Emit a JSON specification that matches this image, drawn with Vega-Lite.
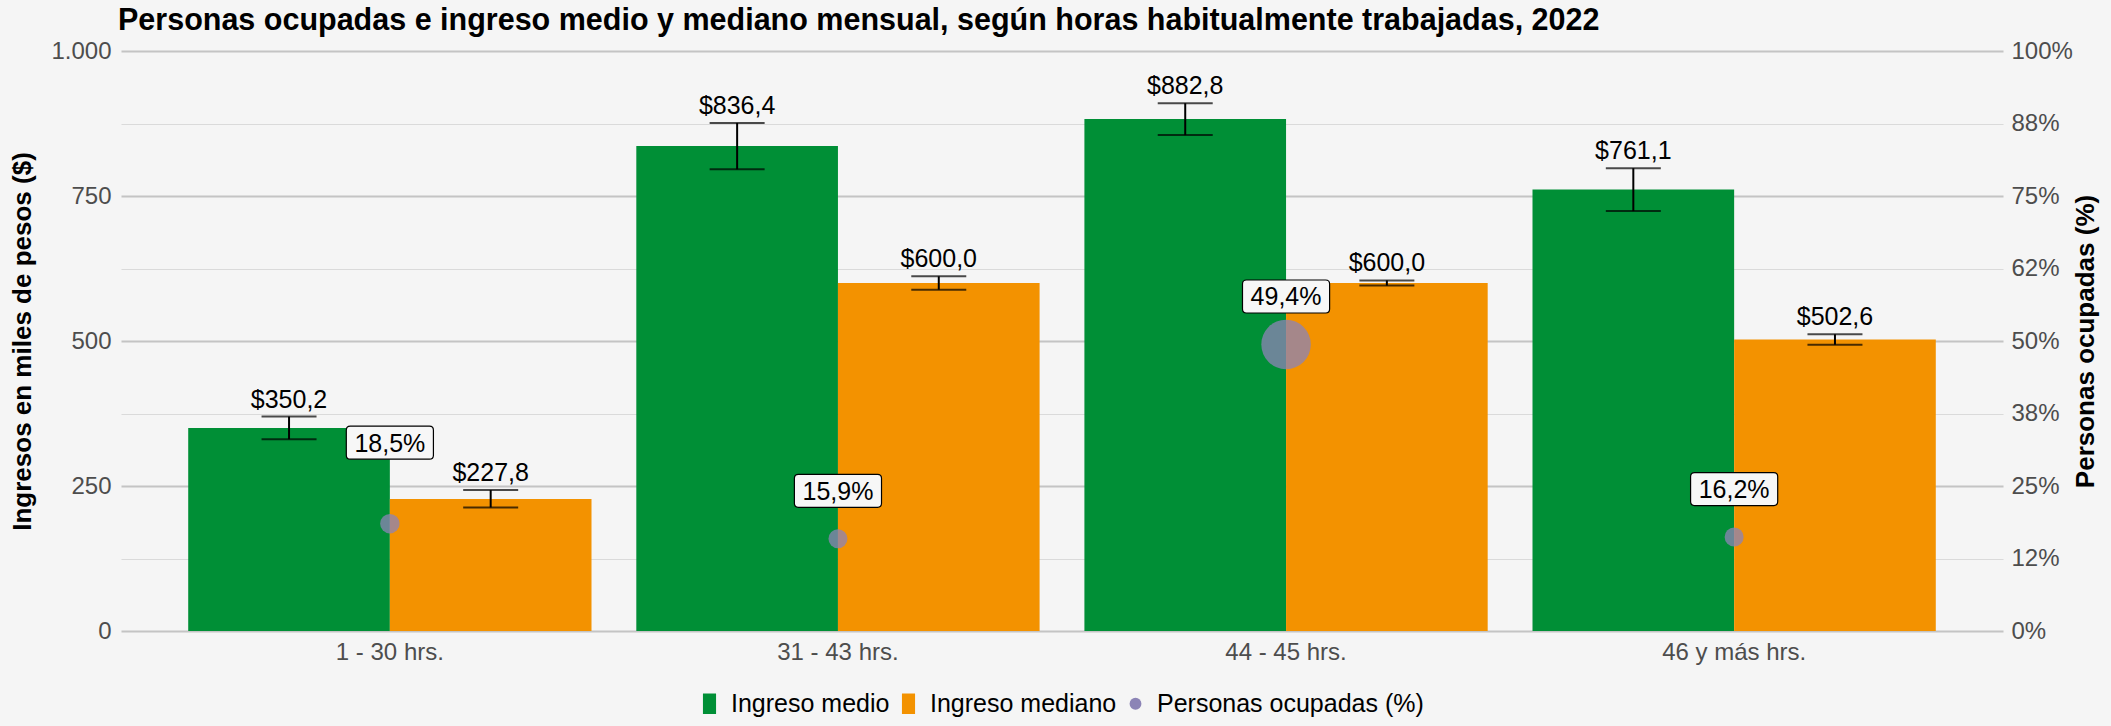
{
  "$schema": "https://vega.github.io/schema/vega-lite/v6.json",
  "autosize": {"type": "none"},
  "width": 1882,
  "height": 580,
  "padding": {"left": 121, "top": 51, "right": 108, "bottom": 95},
  "background": "#f5f5f5",
  "title": {
    "text": "Personas ocupadas e ingreso medio y mediano mensual, según horas habitualmente trabajadas, 2022",
    "anchor": "start",
    "frame": "group",
    "fontSize": 30.5,
    "fontWeight": "bold",
    "color": "#000000",
    "baseline": "alphabetic",
    "offset": 17,
    "dx": -3,
    "dy": 38
  },
  "config": {
    "font": "Liberation Sans",
    "view": {"stroke": null},
    "locale": {
      "number": {"decimal": ",", "thousands": ".", "grouping": [3], "currency": ["$", ""]}
    },
    "axis": {"domain": false, "ticks": false, "labelColor": "#4d4d4d", "labelFontSize": 24, "titleFontSize": 26, "titleFontWeight": "bold", "titleColor": "#000000"},
    "legend": {"labelFontSize": 25, "labelColor": "#000000", "labelLimit": 0}
  },
  "datasets": {
    "ingresos": [
      {"categoria": "1 - 30 hrs.", "tipo": "Ingreso medio", "valor": 350.2, "lo": 330.7, "hi": 369.7},
      {"categoria": "1 - 30 hrs.", "tipo": "Ingreso mediano", "valor": 227.8, "lo": 213.0, "hi": 243.0},
      {"categoria": "31 - 43 hrs.", "tipo": "Ingreso medio", "valor": 836.4, "lo": 796.0, "hi": 876.0},
      {"categoria": "31 - 43 hrs.", "tipo": "Ingreso mediano", "valor": 600.0, "lo": 588.5, "hi": 611.5},
      {"categoria": "44 - 45 hrs.", "tipo": "Ingreso medio", "valor": 882.8, "lo": 855.0, "hi": 910.0},
      {"categoria": "44 - 45 hrs.", "tipo": "Ingreso mediano", "valor": 600.0, "lo": 595.5, "hi": 604.5},
      {"categoria": "46 y más hrs.", "tipo": "Ingreso medio", "valor": 761.1, "lo": 724.0, "hi": 798.0},
      {"categoria": "46 y más hrs.", "tipo": "Ingreso mediano", "valor": 502.6, "lo": 493.6, "hi": 511.6}
    ],
    "personas": [
      {"categoria": "1 - 30 hrs.", "serie": "Personas ocupadas (%)", "pct": 0.185},
      {"categoria": "31 - 43 hrs.", "serie": "Personas ocupadas (%)", "pct": 0.159},
      {"categoria": "44 - 45 hrs.", "serie": "Personas ocupadas (%)", "pct": 0.494},
      {"categoria": "46 y más hrs.", "serie": "Personas ocupadas (%)", "pct": 0.162}
    ]
  },
  "encoding": {
    "x": {
      "field": "categoria",
      "type": "nominal",
      "sort": ["1 - 30 hrs.", "31 - 43 hrs.", "44 - 45 hrs.", "46 y más hrs."],
      "scale": {"paddingInner": 0.1, "paddingOuter": 0.15},
      "axis": {"title": null, "labelAngle": 0, "labelPadding": 9, "grid": false}
    }
  },
  "layer": [
    {
      "data": {"name": "ingresos"},
      "encoding": {
        "xOffset": {"field": "tipo", "type": "nominal", "sort": ["Ingreso medio", "Ingreso mediano"], "scale": {"paddingInner": 0, "paddingOuter": 0}}
      },
      "layer": [
        {
          "mark": {"type": "bar"},
          "encoding": {
            "y": {
              "field": "valor",
              "type": "quantitative",
              "scale": {"domain": [0, 1000], "nice": false},
              "axis": {
                "orient": "left",
                "title": "Ingresos en miles de pesos ($)",
                "titlePadding": 15,
                "labelPadding": 10,
                "values": [0, 125, 250, 375, 500, 625, 750, 875, 1000],
                "labelExpr": "datum.value % 250 == 0 ? (datum.value == 1000 ? '1.000' : datum.label) : ''",
                "grid": true,
                "gridColor": {"condition": {"test": "datum.value % 250 == 0", "value": "#c4c4c4"}, "value": "#dadada"},
                "gridWidth": {"condition": {"test": "datum.value % 250 == 0", "value": 1.8}, "value": 1.1}
              }
            },
            "color": {
              "field": "tipo",
              "type": "nominal",
              "scale": {
                "domain": ["Ingreso medio", "Ingreso mediano", "Personas ocupadas (%)"],
                "range": ["#008F36", "#F39200", "#8c84b6"]
              },
              "legend": {
                "title": null,
                "orient": "none",
                "legendX": 576,
                "legendY": 640,
                "direction": "horizontal",
                "columnPadding": 6,
                "labelOffset": 9,
                "symbolOpacity": 1,
                "encode": {
                  "symbols": {
                    "update": {
                      "shape": {"signal": "datum.value == 'Personas ocupadas (%)' ? 'circle' : 'M-0.64,-1H0.64V1H-0.64Z'"},
                      "size": {"signal": "datum.value == 'Personas ocupadas (%)' ? 140 : 420"},
                      "fill": {"signal": "datum.value == 'Personas ocupadas (%)' ? '#cac7e0' : (datum.value == 'Ingreso medio' ? '#008F36' : '#F39200')"},
                      "fillOpacity": {"value": 1},
                      "opacity": {"value": 1},
                      "strokeWidth": {"value": 0}
                    }
                  }
                }
              }
            }
          }
        },
        {
          "mark": {"type": "rule", "color": "#000000", "strokeWidth": 2},
          "encoding": {"y": {"field": "lo", "type": "quantitative"}, "y2": {"field": "hi"}}
        },
        {
          "mark": {"type": "tick", "color": "#000000", "thickness": 2, "size": 55},
          "encoding": {"y": {"field": "lo", "type": "quantitative"}}
        },
        {
          "mark": {"type": "tick", "color": "#000000", "thickness": 2, "size": 55},
          "encoding": {"y": {"field": "hi", "type": "quantitative"}}
        },
        {
          "mark": {"type": "text", "fontSize": 25, "color": "#000000", "baseline": "alphabetic", "dy": -9},
          "encoding": {
            "y": {"field": "hi", "type": "quantitative"},
            "text": {"field": "valor", "type": "quantitative", "format": "$.1f"}
          }
        }
      ]
    },
    {
      "data": {"name": "personas"},
      "encoding": {
        "y": {
          "field": "pct",
          "type": "quantitative",
          "scale": {"domain": [0, 1], "nice": false},
          "axis": {
            "orient": "right",
            "title": "Personas ocupadas (%)",
            "titleAngle": 270,
            "titlePadding": 26,
            "labelPadding": 8,
            "grid": false,
            "values": [0, 0.125, 0.25, 0.375, 0.5, 0.625, 0.75, 0.875, 1],
            "format": ".0%",
            "labelExpr": "datum.value == 0.125 ? '12%' : (datum.value == 0.625 ? '62%' : datum.label)"
          }
        }
      },
      "layer": [
        {
          "mark": {"type": "circle", "opacity": 0.76},
          "encoding": {
            "size": {
              "field": "pct",
              "type": "quantitative",
              "scale": {"domain": [0.159, 0.185, 0.494], "range": [360, 380, 2450]},
              "legend": null
            },
            "color": {"field": "serie", "type": "nominal"}
          }
        },
        {
          "transform": [{"filter": "datum.pct != 0.185"}],
          "layer": [
            {
              "mark": {"type": "point", "filled": true, "fill": "#f7f7f7", "fillOpacity": 1, "stroke": "#000000", "strokeWidth": 1.2, "size": 7744, "yOffset": -48,
                "shape": "M-0.9,-0.375L0.9,-0.375Q0.99,-0.375 0.99,-0.285L0.99,0.285Q0.99,0.375 0.9,0.375L-0.9,0.375Q-0.99,0.375 -0.99,0.285L-0.99,-0.285Q-0.99,-0.375 -0.9,-0.375Z"}
            },
            {
              "mark": {"type": "text", "fontSize": 25, "color": "#000000", "baseline": "middle", "dy": -47},
              "encoding": {"text": {"field": "pct", "type": "quantitative", "format": ".1%"}}
            }
          ]
        },
        {
          "transform": [{"filter": "datum.pct == 0.185"}],
          "layer": [
            {
              "mark": {"type": "point", "filled": true, "fill": "#f7f7f7", "fillOpacity": 1, "stroke": "#000000", "strokeWidth": 1.2, "size": 7744, "yOffset": -81,
                "shape": "M-0.9,-0.375L0.9,-0.375Q0.99,-0.375 0.99,-0.285L0.99,0.285Q0.99,0.375 0.9,0.375L-0.9,0.375Q-0.99,0.375 -0.99,0.285L-0.99,-0.285Q-0.99,-0.375 -0.9,-0.375Z"}
            },
            {
              "mark": {"type": "text", "fontSize": 25, "color": "#000000", "baseline": "middle", "dy": -80},
              "encoding": {"text": {"field": "pct", "type": "quantitative", "format": ".1%"}}
            }
          ]
        }
      ]
    }
  ],
  "resolve": {"scale": {"y": "independent"}, "axis": {"y": "independent"}}
}
